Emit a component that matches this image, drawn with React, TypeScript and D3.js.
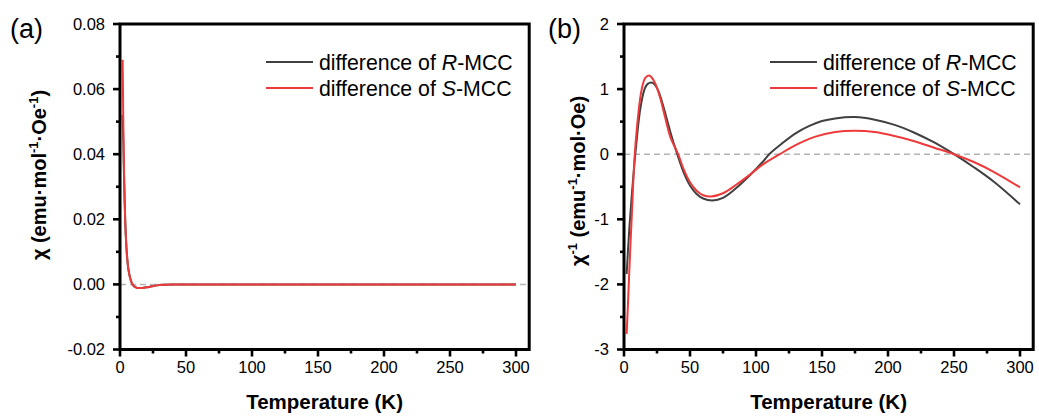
import React from "react";
import * as d3 from "d3";

// ---------- data ----------
const leftT = [2, 2.5, 3, 3.5, 4, 5, 6, 7, 8, 9, 10, 12, 14, 17, 20, 24, 28, 33, 40, 50, 100, 150, 200, 250, 300];
const leftR = [0.052, 0.044, 0.034, 0.026, 0.019, 0.0105, 0.0058, 0.0032, 0.0015, 0.0004, -0.0003, -0.0009, -0.0011, -0.0011, -0.0009, -0.0006, -0.0003, -0.0001, 0, 0, 0, 0, 0, 0, 0];
const leftS = [0.069, 0.05, 0.036, 0.026, 0.019, 0.0105, 0.0058, 0.0032, 0.0015, 0.0004, -0.0003, -0.0009, -0.0011, -0.0011, -0.0009, -0.0006, -0.0003, -0.0001, 0, 0, 0, 0, 0, 0, 0];

const rightRT = [2, 4, 6, 8, 10, 12, 14, 16, 18, 21, 24, 27, 30, 35, 40, 45, 50, 55, 60, 67, 75, 85, 95, 105, 110, 120, 130, 140, 150, 160, 175, 190, 205, 220, 235, 250, 265, 280, 300];
const rightRV = [-1.84, -1.15, -0.6, -0.12, 0.3, 0.65, 0.88, 1.02, 1.08, 1.1, 1.05, 0.92, 0.72, 0.35, 0.02, -0.27, -0.48, -0.61, -0.68, -0.71, -0.67, -0.52, -0.33, -0.12, 0.0, 0.17, 0.32, 0.43, 0.51, 0.55, 0.57, 0.53, 0.45, 0.33, 0.18, 0.0, -0.2, -0.42, -0.77];
const rightST = [2, 3, 4, 6, 8, 10, 12, 14, 16, 19, 22, 25, 28, 31, 35, 41, 45, 50, 55, 60, 66, 75, 85, 95, 105, 118, 130, 145, 160, 175, 190, 205, 220, 235, 250, 265, 280, 300];
const rightSV = [-2.76, -2.3, -1.8, -0.9, -0.05, 0.45, 0.82, 1.05, 1.17, 1.21, 1.15, 1.02, 0.82, 0.58, 0.27, 0.0, -0.22, -0.43, -0.56, -0.63, -0.65, -0.6, -0.47, -0.32, -0.16, 0.0, 0.14, 0.27, 0.34, 0.36, 0.34, 0.28, 0.2, 0.1, 0.0, -0.12, -0.27, -0.51];

const xMajor = [0, 50, 100, 150, 200, 250, 300];
const xMinor = [25, 75, 125, 175, 225, 275];
const leftYMajor = [-0.02, 0, 0.02, 0.04, 0.06, 0.08];
const leftYMinor = [-0.01, 0.01, 0.03, 0.05, 0.07];
const leftYLabels = ["-0.02", "0.00", "0.02", "0.04", "0.06", "0.08"];
const rightYMajor = [-3, -2, -1, 0, 1, 2];
const rightYMinor = [-2.5, -1.5, -0.5, 0.5, 1.5];
const rightYLabels = ["-3", "-2", "-1", "0", "1", "2"];

const legendNames = ["R", "S"];
const colors = { R: "#404040", S: "#ee3a3a" };

const FONT = "'Liberation Sans', Arial, Helvetica, sans-serif";
const TOP = 24;
const BOTTOM = 349.5;
const PXU = 1.32;
const XMAX = 310;

type PanelProps = {
  x0: number;
  label: string;
  yDomain: [number, number];
  yMajor: number[];
  yMinor: number[];
  yLabels: string[];
  series: { t: number[]; v: number[]; key: "R" | "S" }[];
  yTitle: React.ReactNode;
  yTitleX: number;
  yTitleY: number;
  labelX: number;
  curve: d3.CurveFactory;
};

function Panel(p: PanelProps) {
  const x = d3.scaleLinear().domain([0, XMAX]).range([p.x0, p.x0 + XMAX * PXU]);
  const y = d3.scaleLinear().domain(p.yDomain).range([BOTTOM, TOP]);
  const line = d3
    .line<[number, number]>()
    .x((d) => x(d[0]))
    .y((d) => y(d[1]))
    .curve(p.curve);
  const xr = x.range();
  const legX = p.x0 + 146;
  return (
    <g>
      <text x={p.labelX} y={38} fontSize={27} fontFamily={FONT} fill="#000">
        {p.label}
      </text>
      <line x1={xr[0]} x2={xr[1]} y1={y(0)} y2={y(0)} stroke="#b4b4b4" strokeWidth={1.5} strokeDasharray="6,4" />
      {p.series.map((s) => (
        <path
          key={s.key}
          d={line(s.t.map((t, i) => [t, s.v[i]] as [number, number])) || ""}
          fill="none"
          stroke={colors[s.key]}
          strokeWidth={2}
        />
      ))}
      <rect x={xr[0]} y={TOP} width={xr[1] - xr[0]} height={BOTTOM - TOP} fill="none" stroke="#000" strokeWidth={3} />
      {xMajor.map((t) => (
        <g key={"xm" + t}>
          <line x1={x(t)} x2={x(t)} y1={BOTTOM} y2={BOTTOM + 7} stroke="#000" strokeWidth={2.6} />
          <text x={x(t)} y={BOTTOM + 23} fontSize={16.5} fontFamily={FONT} textAnchor="middle" fill="#000">
            {t}
          </text>
        </g>
      ))}
      {xMinor.map((t) => (
        <line key={"xn" + t} x1={x(t)} x2={x(t)} y1={BOTTOM} y2={BOTTOM + 4} stroke="#000" strokeWidth={2.6} />
      ))}
      {p.yMajor.map((v, i) => (
        <g key={"ym" + v}>
          <line x1={p.x0 - 7} x2={p.x0} y1={y(v)} y2={y(v)} stroke="#000" strokeWidth={2.6} />
          <text x={p.x0 - 15} y={y(v)} dy="0.35em" fontSize={16.5} fontFamily={FONT} textAnchor="end" fill="#000">
            {p.yLabels[i]}
          </text>
        </g>
      ))}
      {p.yMinor.map((v) => (
        <line key={"yn" + v} x1={p.x0 - 4} x2={p.x0} y1={y(v)} y2={y(v)} stroke="#000" strokeWidth={2.6} />
      ))}
      <text
        x={(xr[0] + xr[1]) / 2}
        y={409}
        fontSize={20.5}
        fontWeight="bold"
        fontFamily={FONT}
        textAnchor="middle"
        fill="#000"
      >
        Temperature (K)
      </text>
      <text
        transform={`translate(${p.yTitleX},${p.yTitleY}) rotate(-90)`}
        fontSize={20}
        fontWeight="bold"
        fontFamily={FONT}
        textAnchor="middle"
        fill="#000"
      >
        {p.yTitle}
      </text>
      {legendNames.map((n, i) => (
        <g key={"lg" + n}>
          <line
            x1={legX}
            x2={legX + 47}
            y1={62 + i * 26}
            y2={62 + i * 26}
            stroke={colors[n as "R" | "S"]}
            strokeWidth={2}
          />
          <text x={legX + 53} y={69.5 + i * 26} fontSize={21.3} fontFamily={FONT} fill="#000">
            difference of <tspan fontStyle="italic">{n}</tspan>-MCC
          </text>
        </g>
      ))}
    </g>
  );
}

const sup = (s: string) => (
  <tspan fontSize={13} dy={-8}>
    {s}
  </tspan>
);
const down = (s: string) => <tspan dy={8}>{s}</tspan>;

export default function App() {
  const leftTitle = (
    <>
      χ (emu·mol{sup("-1")}
      {down("·Oe")}
      {sup("-1")}
      {down(")")}
    </>
  );
  const rightTitle = (
    <>
      χ{sup("-1")}
      {down(" (emu")}
      {sup("-1")}
      {down("·mol·Oe)")}
    </>
  );
  return (
    <svg
      width={1039}
      height={416}
      style={{ position: "absolute", left: 0, top: 0, background: "#fff" }}
    >
      <Panel
        x0={120}
        label="(a)"
        labelX={10}
        yDomain={[-0.02, 0.08]}
        yMajor={leftYMajor}
        yMinor={leftYMinor}
        yLabels={leftYLabels}
        series={[
          { t: leftT, v: leftR, key: "R" },
          { t: leftT, v: leftS, key: "S" },
        ]}
        yTitle={leftTitle}
        yTitleX={46}
        yTitleY={175}
        curve={d3.curveMonotoneX}
      />
      <Panel
        x0={624}
        label="(b)"
        labelX={548}
        yDomain={[-3, 2]}
        yMajor={rightYMajor}
        yMinor={rightYMinor}
        yLabels={rightYLabels}
        series={[
          { t: rightRT, v: rightRV, key: "R" },
          { t: rightST, v: rightSV, key: "S" },
        ]}
        yTitle={rightTitle}
        yTitleX={585}
        yTitleY={181}
        curve={d3.curveCatmullRom.alpha(0.5)}
      />
    </svg>
  );
}
